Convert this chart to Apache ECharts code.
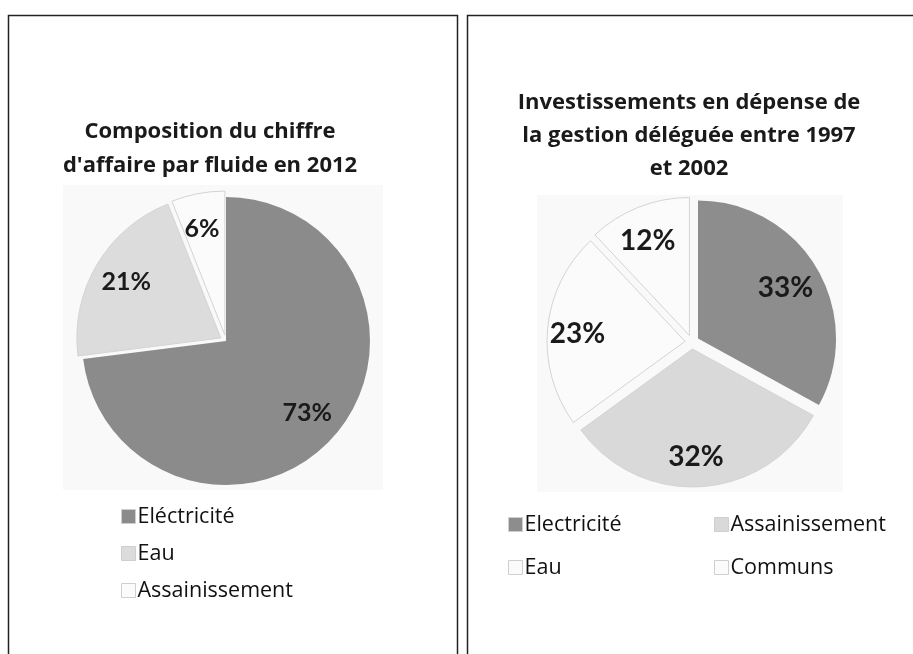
<!DOCTYPE html>
<html>
<head>
<meta charset="utf-8">
<script src="https://cdn.jsdelivr.net/npm/echarts@6/dist/echarts.min.js"></script>
<style>
html,body{margin:0;padding:0;background:#fff;}
#c{width:913px;height:654px;}
</style>
</head>
<body>
<div id="c"></div>
<script>
// ---- Data ----
const leftTitle = "Composition du chiffre\nd'affaire par fluide en 2012";
const leftCategories = ["Eléctricité", "Eau", "Assainissement"];
const leftValues = [73, 21, 6];

const rightTitle = "Investissements en dépense de\nla gestion déléguée entre 1997\net 2002";
const rightCategories = ["Electricité", "Assainissement", "Eau", "Communs"];
const rightValues = [33, 32, 23, 12];

// ---- Styles ----
const leftColors = ["#8b8b8b", "#dcdcdc", "#fbfbfb"];
const rightColors = ["#8d8d8d", "#d9d9d9", "#fbfbfb", "#fbfbfb"];
const TITLE_FONT = "Open Sans";
const LABEL_FONT = "Lato";

function items(cats, vals, colors, selectedFlags) {
  return cats.map((n, i) => ({
    name: n,
    value: vals[i],
    selected: selectedFlags[i],
    itemStyle: {
      color: colors[i],
      borderColor: i === 0 ? colors[i] : "#d4d4d4",
      borderWidth: i === 0 ? 0 : 1
    }
  }));
}
function legendItems(cats, colors, idx) {
  return idx.map(i => ({name: cats[i], itemStyle: {color: colors[i], borderColor: '#cfcfcf', borderWidth: 1}}));
}

const chart = echarts.init(document.getElementById('c'), null, {renderer: 'canvas'});

const leftCenter = [226, 341], leftR = 144;
const rightCenter = [692, 342], rightR = 138;

const legendText = {fontFamily: TITLE_FONT, fontSize: 21.5, color: '#111', padding: [0, 0, 0, -3]};

const option = {
  animation: false,
  backgroundColor: '#ffffff',
  graphic: [
    {type: 'rect', shape: {x: 63, y: 185, width: 320, height: 305}, style: {fill: '#f9f9f9'}, z: -10},
    {type: 'rect', shape: {x: 537, y: 195, width: 306, height: 297}, style: {fill: '#f9f9f9'}, z: -10},
    {type: 'rect', shape: {x: 8.5, y: 15.5, width: 449, height: 700}, style: {fill: 'none', stroke: '#222', lineWidth: 1.5}, z: 10},
    {type: 'rect', shape: {x: 467.5, y: 15.5, width: 500, height: 700}, style: {fill: 'none', stroke: '#222', lineWidth: 1.5}, z: 10}
  ],
  title: [
    {
      text: leftTitle, left: 205, top: 110, textAlign: 'center',
      textStyle: {fontFamily: TITLE_FONT, fontWeight: 'bold', fontSize: 22, lineHeight: 34, color: '#1a1a1a'}
    },
    {
      text: rightTitle, left: 684, top: 81, textAlign: 'center',
      textStyle: {fontFamily: TITLE_FONT, fontWeight: 'bold', fontSize: 22, lineHeight: 33, color: '#1a1a1a'}
    }
  ],
  legend: [
    {
      data: legendItems(leftCategories, leftColors, [0, 1, 2]), orient: 'vertical', left: 121, top: 505.5, padding: 0,
      icon: 'rect', itemWidth: 14, itemHeight: 14, itemGap: 15, selectedMode: false,
      textStyle: legendText
    },
    {
      data: legendItems(rightCategories, rightColors, [0, 2]), orient: 'vertical', left: 508, top: 513.5, padding: 0,
      icon: 'rect', itemWidth: 14, itemHeight: 14, itemGap: 21, selectedMode: false,
      textStyle: legendText
    },
    {
      data: legendItems(rightCategories, rightColors, [1, 3]), orient: 'vertical', left: 714, top: 513.5, padding: 0,
      icon: 'rect', itemWidth: 14, itemHeight: 14, itemGap: 21, selectedMode: false,
      textStyle: legendText
    }
  ],
  series: [
    {
      type: 'pie', center: leftCenter, radius: [0, leftR], startAngle: 90, clockwise: true,
      selectedMode: 'multiple', selectedOffset: 6, avoidLabelOverlap: false,
      label: {show: false}, labelLine: {show: false},
      emphasis: {disabled: true},
      data: items(leftCategories, leftValues, leftColors, [false, true, true])
    },
    {
      type: 'pie', center: [leftCenter[0] - 3, leftCenter[1] - 2], radius: [leftR * 0.52, leftR], startAngle: 90, clockwise: true,
      silent: true, avoidLabelOverlap: false, z: 5,
      label: {show: true, position: 'inside', formatter: '{d}%', fontFamily: LABEL_FONT, fontWeight: 'bold', fontSize: 25, color: '#1a1a1a'},
      labelLine: {show: false},
      data: leftCategories.map((n, i) => ({name: n, value: leftValues[i], itemStyle: {color: 'rgba(0,0,0,0)', borderWidth: 0}}))
    },
    {
      type: 'pie', center: rightCenter, radius: [0, rightR], startAngle: 90, clockwise: true,
      selectedMode: 'multiple', selectedOffset: 7, avoidLabelOverlap: false,
      label: {show: false}, labelLine: {show: false},
      emphasis: {disabled: true},
      data: items(rightCategories, rightValues, rightColors, [true, true, true, true])
    },
    {
      type: 'pie', center: [rightCenter[0] - 3, rightCenter[1] + 3], radius: [rightR * 0.58, rightR], startAngle: 90, clockwise: true,
      silent: true, avoidLabelOverlap: false, z: 5,
      label: {show: true, position: 'inside', formatter: '{d}%', fontFamily: LABEL_FONT, fontWeight: 'bold', fontSize: 28, color: '#1a1a1a'},
      labelLine: {show: false},
      data: rightCategories.map((n, i) => ({name: n, value: rightValues[i], itemStyle: {color: 'rgba(0,0,0,0)', borderWidth: 0}}))
    }
  ]
};
chart.setOption(option);
</script>
</body>
</html>
